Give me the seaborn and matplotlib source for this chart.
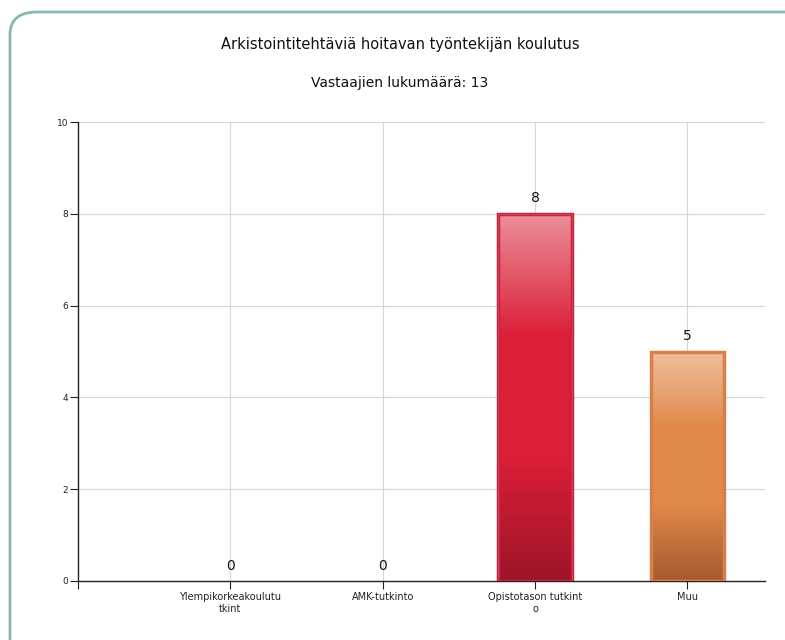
import numpy as np
import pandas as pd
import matplotlib
matplotlib.use("Agg")
import matplotlib.pyplot as plt
import seaborn as sns
from matplotlib.colors import LinearSegmentedColormap
from matplotlib.patches import FancyBboxPatch

categories = ["Ylempikorkeakoulututkint", "AMK-tutkinto", "Opistotason tutkinto", "Muu"]
tick_labels = ["Ylempikorkeakoulutu\ntkint", "AMK-tutkinto", "Opistotason tutkint\no", "Muu"]
values = [0, 0, 8, 5]
title = "Arkistointitehtäviä hoitavan työntekijän koulutus"
subtitle = "Vastaajien lukumäärä: 13"

# gradient stops per bar (top, mid, bottom)
grad_colors = [
    ["#ec8f9a", "#db1f37", "#9c1428"],
    ["#ec8f9a", "#db1f37", "#9c1428"],
    ["#ec8f9a", "#db1f37", "#9c1428"],
    ["#efbe9c", "#e0894a", "#a55a30"],
]
edge_colors = ["#d41f3c", "#d41f3c", "#d41f3c", "#e07f40"]

sns.set_theme(style="white")
plt.rcParams["font.family"] = ["DejaVu Sans"]

fig = plt.figure(figsize=(7.85, 6.4), dpi=100)
ax = fig.add_axes([78/785, 59/640, (765-78)/785, (581-122)/640])

df = pd.DataFrame({"cat": categories, "val": values})
sns.barplot(data=df, x="cat", y="val", ax=ax, width=0.48,
            palette=[c[1] for c in grad_colors], hue="cat", legend=False,
            edgecolor="none", zorder=2)

ax.set_xlim(-1, 3.51)
ax.set_ylim(0, 10)

# gradient fill on bars
for i, p in enumerate(ax.patches):
    x0, y0 = p.get_x(), p.get_y()
    w, h = p.get_width(), p.get_height()
    if h <= 0:
        continue
    cmap = LinearSegmentedColormap.from_list("g", [grad_colors[i][2], grad_colors[i][1], grad_colors[i][1], grad_colors[i][0]],)
    grad = np.linspace(0, 1, 256).reshape(-1, 1)
    im = ax.imshow(grad, extent=[x0, x0 + w, y0, y0 + h], origin="lower",
                   cmap=cmap, aspect="auto", zorder=3)
    im.set_clip_path(p)
    p.set_facecolor("none")
    p.set_edgecolor(edge_colors[i])
    p.set_linewidth(2.5)
    p.set_zorder(4)
    # thin outer grey outline
    ax.add_patch(plt.Rectangle((x0, y0), w, h, fill=False, edgecolor="#8a8aa0",
                               linewidth=0.5, alpha=0.6, zorder=5))

ax.set_xticks(range(len(categories)))
ax.set_xticklabels(tick_labels, fontsize=7, color="#222222")
ax.set_xticks([-1], minor=True)
ax.set_yticks([0, 2, 4, 6, 8, 10])
ax.set_yticklabels(["0", "2", "4", "6", "8", "10"], fontsize=6.5, color="#111111")
ax.tick_params(axis="both", which="both", direction="out", length=6, width=0.8,
               colors="#222222", bottom=True, left=True)
ax.tick_params(axis="x", which="major", pad=2)
ax.tick_params(axis="y", pad=1)
ax.set_xlabel("")
ax.set_ylabel("")

ax.grid(True, axis="both", color="#d6d6d6", linewidth=0.8, zorder=0)
ax.set_axisbelow(True)
for s in ["top", "right"]:
    ax.spines[s].set_visible(False)
for s in ["left", "bottom"]:
    ax.spines[s].set_color("#222222")
    ax.spines[s].set_linewidth(1.0)

for i, v in enumerate(values):
    ax.annotate(str(v), (i, v), xytext=(0, 6), textcoords="offset points",
                ha="center", va="bottom", fontsize=10, color="#111111")

fig.text(400/785, 1 - 45/640, title, ha="center", va="center",
         fontsize=10.5, color="#111111")
fig.text(400/785, 1 - 83/640, subtitle, ha="center", va="center",
         fontsize=10, color="#111111")

frame = FancyBboxPatch((10/785, -0.05), 1.2, 1 - 12/640 + 0.05,
                       boxstyle="round,pad=0,rounding_size=0.035",
                       transform=fig.transFigure, fill=False,
                       edgecolor="#86b8b3", linewidth=2.0, clip_on=False)
fig.patches.append(frame)

fig.savefig("out.png", dpi=100)
